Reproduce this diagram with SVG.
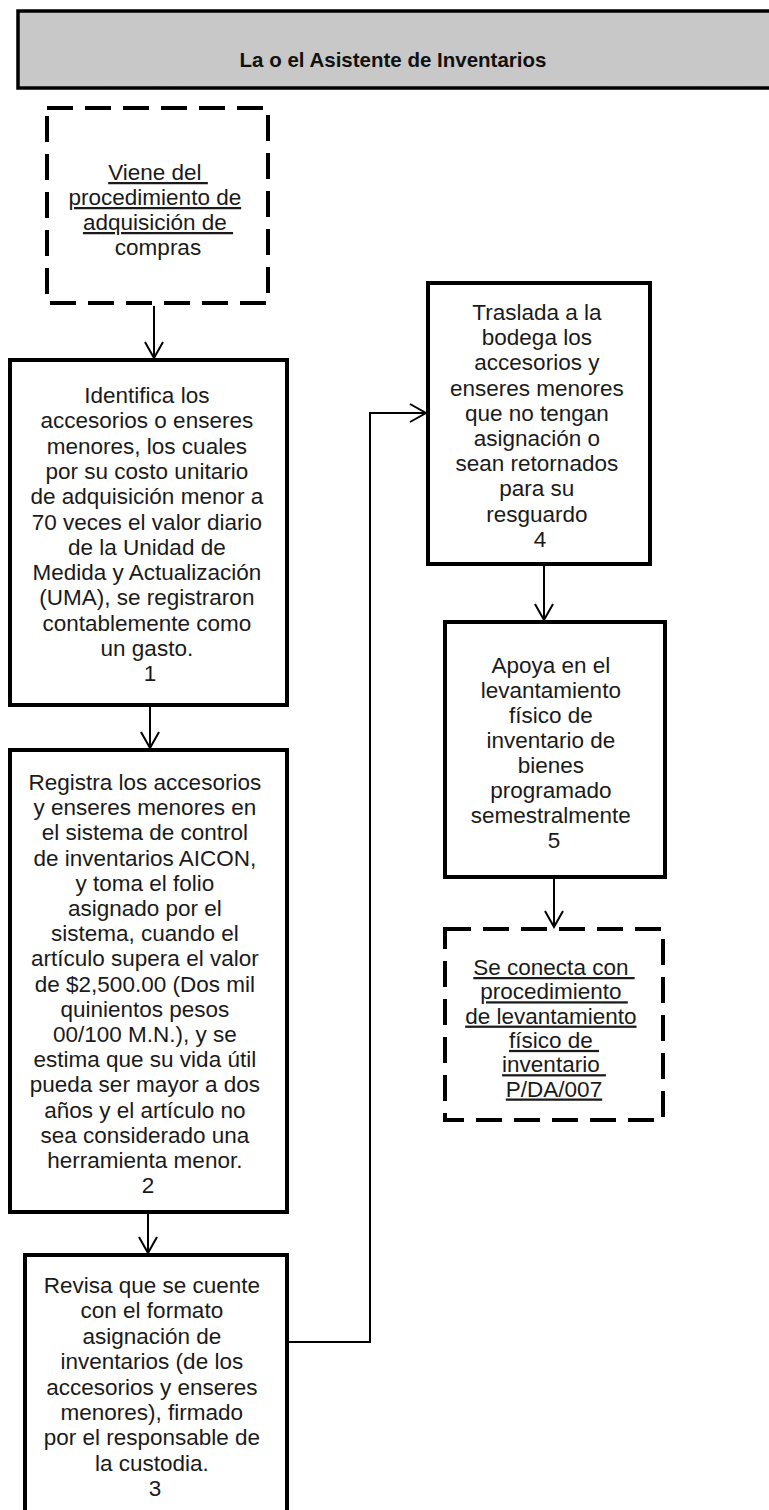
<svg xmlns="http://www.w3.org/2000/svg" width="769" height="1510" viewBox="0 0 769 1510">
<style>
  .box { fill: #ffffff; stroke: #000000; stroke-width: 4; }
  .dash { fill: #ffffff; stroke: #000000; stroke-width: 4; stroke-dasharray: 26 12; }
  .hdr { fill: #c4c4c4; stroke: #000000; stroke-width: 3.5; }
  .t { font-family: "Liberation Sans", Arial, sans-serif; font-size: 22.5px; fill: #1a1a1a; text-anchor: middle; }
  .u { text-decoration: underline; }
  .title { font-family: "Liberation Sans", Arial, sans-serif; font-size: 20.5px; font-weight: bold; fill: #111111; text-anchor: middle; }
  .conn { fill: none; stroke: #000000; stroke-width: 2; }
</style>
<defs>
  <marker id="arr" viewBox="0 0 20 20" refX="18" refY="10" markerWidth="20" markerHeight="20" markerUnits="userSpaceOnUse" orient="auto">
    <path d="M2,1 L18,10 L2,19" fill="none" stroke="#000000" stroke-width="2"/>
  </marker>
  <filter id="grain" x="0" y="0" width="100%" height="100%">
    <feTurbulence type="fractalNoise" baseFrequency="0.9" numOctaves="2" seed="3" result="n"/>
    <feColorMatrix in="n" type="matrix" values="0 0 0 0 0.6  0 0 0 0 0.6  0 0 0 0 0.6  0 0 0 0.35 0" result="g"/>
    <feComposite in="g" in2="SourceGraphic" operator="in" result="gc"/>
    <feMerge><feMergeNode in="SourceGraphic"/><feMergeNode in="gc"/></feMerge>
  </filter>
</defs>
<rect width="769" height="1510" fill="#ffffff"/>

<g id="header">
  <rect x="18" y="11" width="760" height="77" fill="#c8c8c8" filter="url(#grain)"/>
  <rect x="18" y="11" width="760" height="77" fill="none" stroke="#000000" stroke-width="3.5"/>
  <text class="title" x="393" y="67">La o el Asistente de Inventarios</text>
</g>

<g id="connectors">
  <line class="conn" x1="154" y1="306" x2="154" y2="358" marker-end="url(#arr)"/>
  <line class="conn" x1="150" y1="706" x2="150" y2="748" marker-end="url(#arr)"/>
  <line class="conn" x1="148" y1="1213" x2="148" y2="1253" marker-end="url(#arr)"/>
  <polyline class="conn" points="288,1342 370,1342 370,413 426,413" marker-end="url(#arr)"/>
  <line class="conn" x1="544" y1="565" x2="544" y2="620" marker-end="url(#arr)"/>
  <line class="conn" x1="554" y1="878" x2="554" y2="927" marker-end="url(#arr)"/>
</g>

<g id="start">
  <rect class="dash" x="47" y="108" width="221" height="195"/>
  <text class="t">
    <tspan class="u" x="158" y="180">Viene del </tspan>
    <tspan class="u" x="158" y="205">procedimiento de</tspan>
    <tspan class="u" x="158" y="230">adquisición de </tspan>
    <tspan x="158" y="255">compras</tspan>
  </text>
</g>

<g id="step1">
  <rect class="box" x="10" y="360" width="277" height="345"/>
  <text class="t">
    <tspan x="150" y="403">Identifica los</tspan>
    <tspan x="150" y="428.3">accesorios o enseres</tspan>
    <tspan x="150" y="453.6">menores, los cuales</tspan>
    <tspan x="150" y="478.9">por su costo unitario</tspan>
    <tspan x="150" y="504.2">de adquisición menor a</tspan>
    <tspan x="150" y="529.5">70 veces el valor diario</tspan>
    <tspan x="150" y="554.8">de la Unidad de</tspan>
    <tspan x="150" y="580.1">Medida y Actualización</tspan>
    <tspan x="150" y="605.4">(UMA), se registraron</tspan>
    <tspan x="150" y="630.7">contablemente como</tspan>
    <tspan x="150" y="656">un gasto.</tspan>
    <tspan x="150" y="681.3">1</tspan>
  </text>
</g>

<g id="step2">
  <rect class="box" x="10" y="750" width="277" height="462"/>
  <text class="t">
    <tspan x="148" y="790">Registra los accesorios</tspan>
    <tspan x="148" y="815.2">y enseres menores en</tspan>
    <tspan x="148" y="840.4">el sistema de control</tspan>
    <tspan x="148" y="865.6">de inventarios AICON,</tspan>
    <tspan x="148" y="890.8">y toma el folio</tspan>
    <tspan x="148" y="916">asignado por el</tspan>
    <tspan x="148" y="941.2">sistema, cuando el</tspan>
    <tspan x="148" y="966.4">artículo supera el valor</tspan>
    <tspan x="148" y="991.6">de $2,500.00 (Dos mil</tspan>
    <tspan x="148" y="1016.8">quinientos pesos</tspan>
    <tspan x="148" y="1042">00/100 M.N.), y se</tspan>
    <tspan x="148" y="1067.2">estima que su vida útil</tspan>
    <tspan x="148" y="1092.4">pueda ser mayor a dos</tspan>
    <tspan x="148" y="1117.6">años y el artículo no</tspan>
    <tspan x="148" y="1142.8">sea considerado una</tspan>
    <tspan x="148" y="1168">herramienta menor.</tspan>
    <tspan x="148" y="1193.2">2</tspan>
  </text>
</g>

<g id="step3">
  <rect class="box" x="25" y="1255" width="262" height="257"/>
  <text class="t">
    <tspan x="155" y="1293">Revisa que se cuente</tspan>
    <tspan x="155" y="1318.4">con el formato</tspan>
    <tspan x="155" y="1343.8">asignación de</tspan>
    <tspan x="155" y="1369.2">inventarios (de los</tspan>
    <tspan x="155" y="1394.6">accesorios y enseres</tspan>
    <tspan x="155" y="1420">menores), firmado</tspan>
    <tspan x="155" y="1445.4">por el responsable de</tspan>
    <tspan x="155" y="1470.8">la custodia.</tspan>
    <tspan x="155" y="1496.2">3</tspan>
  </text>
</g>

<g id="step4">
  <rect class="box" x="428" y="283" width="222" height="281"/>
  <text class="t">
    <tspan x="540" y="320">Traslada a la</tspan>
    <tspan x="540" y="345.2">bodega los</tspan>
    <tspan x="540" y="370.4">accesorios y</tspan>
    <tspan x="540" y="395.6">enseres menores</tspan>
    <tspan x="540" y="420.8">que no tengan</tspan>
    <tspan x="540" y="446">asignación o</tspan>
    <tspan x="540" y="471.2">sean retornados</tspan>
    <tspan x="540" y="496.4">para su</tspan>
    <tspan x="540" y="521.6">resguardo</tspan>
    <tspan x="540" y="546.8">4</tspan>
  </text>
</g>

<g id="step5">
  <rect class="box" x="445" y="622" width="220" height="255"/>
  <text class="t">
    <tspan x="554" y="673">Apoya en el</tspan>
    <tspan x="554" y="698">levantamiento</tspan>
    <tspan x="554" y="723">físico de</tspan>
    <tspan x="554" y="748">inventario de</tspan>
    <tspan x="554" y="773">bienes</tspan>
    <tspan x="554" y="798">programado</tspan>
    <tspan x="554" y="823">semestralmente</tspan>
    <tspan x="554" y="848">5</tspan>
  </text>
</g>

<g id="end">
  <rect class="dash" x="445" y="929" width="218" height="191"/>
  <text class="t">
    <tspan class="u" x="554" y="975">Se conecta con </tspan>
    <tspan class="u" x="554" y="999.3">procedimiento </tspan>
    <tspan class="u" x="554" y="1023.6">de levantamiento</tspan>
    <tspan class="u" x="554" y="1047.9">físico de </tspan>
    <tspan class="u" x="554" y="1072.2">inventario </tspan>
    <tspan class="u" x="554" y="1096.5">P/DA/007</tspan>
  </text>
</g>
</svg>
